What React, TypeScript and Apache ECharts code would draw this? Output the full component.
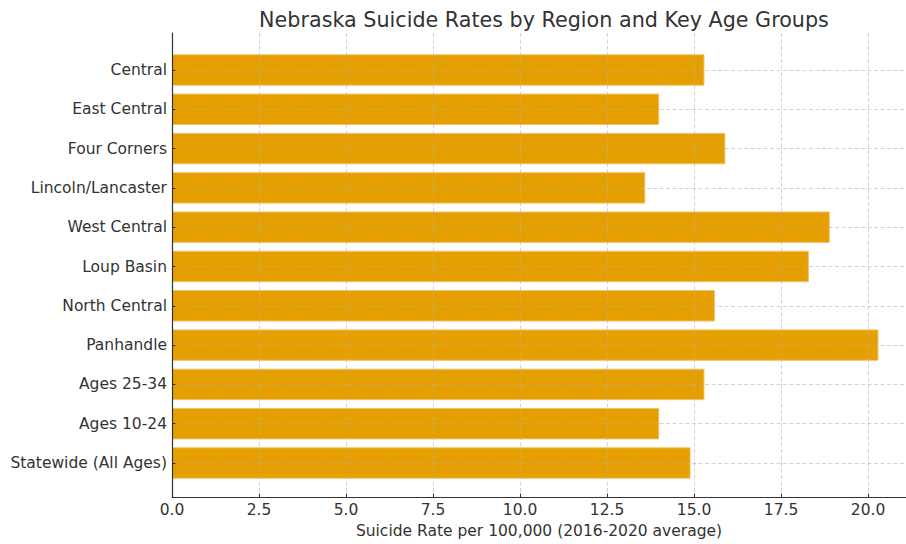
import React, { useEffect, useRef } from "react";
import * as echarts from "echarts";

const categories = [
  "Central",
  "East Central",
  "Four Corners",
  "Lincoln/Lancaster",
  "West Central",
  "Loup Basin",
  "North Central",
  "Panhandle",
  "Ages 25-34",
  "Ages 10-24",
  "Statewide (All Ages)",
];
const rates = [15.3, 14.0, 15.9, 13.6, 18.9, 18.3, 15.6, 20.3, 15.3, 14.0, 14.9];
const titleText = "Nebraska Suicide Rates by Region and Key Age Groups";
const xAxisName = "Suicide Rate per 100,000 (2016-2020 average)";

const FONT = "DejaVu Sans, sans-serif";
const TEXT = "#333333";
const GRID_LINE = "rgba(176,176,176,0.55)";

export default function App() {
  const ref = useRef<HTMLDivElement>(null);
  useEffect(() => {
    if (!ref.current) return;
    const chart = echarts.init(ref.current, null, { renderer: "svg" });
    const xMax = 21.09;
    const band = 39.3;
    const plotTop = 33;
    const plotBottom = 500;
    const bandTop = 70 - band / 2;
    const bandHeight = band * categories.length;
    chart.setOption({
      animation: false,
      backgroundColor: "#ffffff",
      textStyle: { fontFamily: FONT },
      title: {
        text: titleText,
        left: 539,
        top: 4,
        textAlign: "center",
        textStyle: { fontFamily: FONT, fontSize: 20.7, fontWeight: "normal", color: TEXT },
      },
      grid: [
        { left: 172, right: 0, top: plotTop, height: plotBottom - plotTop },
        { left: 172, right: 0, top: bandTop, height: bandHeight },
      ],
      xAxis: [
        {
          type: "value",
          gridIndex: 0,
          min: 0,
          max: xMax,
          interval: 2.5,
          z: 5,
          axisLine: { show: true, lineStyle: { color: TEXT, width: 1.2 } },
          axisTick: { show: true, inside: true, length: 3.5, lineStyle: { color: TEXT } },
          axisLabel: {
            color: TEXT,
            fontSize: 15.5,
            fontFamily: FONT,
            margin: 5,
            showMaxLabel: false,
            formatter: (v: number) => v.toFixed(1),
          },
          splitLine: { show: true, lineStyle: { color: GRID_LINE, type: [4, 2.5], width: 1 } },
          name: xAxisName,
          nameLocation: "middle",
          nameGap: 26,
          nameTextStyle: { color: TEXT, fontSize: 15.5, fontFamily: FONT },
        },
        {
          type: "value",
          gridIndex: 1,
          min: 0,
          max: xMax,
          show: false,
        },
      ],
      yAxis: [
        {
          type: "value",
          gridIndex: 0,
          min: 0,
          max: 1,
          z: 5,
          axisLine: { show: true, lineStyle: { color: TEXT, width: 1.2 } },
          axisTick: { show: false },
          axisLabel: { show: false },
          splitLine: { show: false },
        },
        {
          type: "category",
          gridIndex: 1,
          data: categories,
          inverse: true,
          z: 5,
          axisLine: { show: false },
          axisTick: {
            show: true,
            inside: true,
            alignWithLabel: true,
            length: 3.5,
            lineStyle: { color: TEXT },
          },
          axisLabel: { color: TEXT, fontSize: 15.5, fontFamily: FONT, margin: 5 },
          splitLine: {
            show: true,
            alignWithLabel: true,
            lineStyle: { color: GRID_LINE, type: [4, 2.5], width: 1 },
          },
        },
      ],
      series: [
        {
          type: "bar",
          xAxisIndex: 1,
          yAxisIndex: 1,
          data: rates,
          barWidth: "80%",
          z: 2,
          itemStyle: { color: "#E69F00", borderColor: "#F0C46A", borderWidth: 1 },
        },
      ],
    });
    return () => chart.dispose();
  }, []);
  return (
    <div
      ref={ref}
      style={{ position: "absolute", left: 0, top: 0, width: 906, height: 544 }}
    />
  );
}
